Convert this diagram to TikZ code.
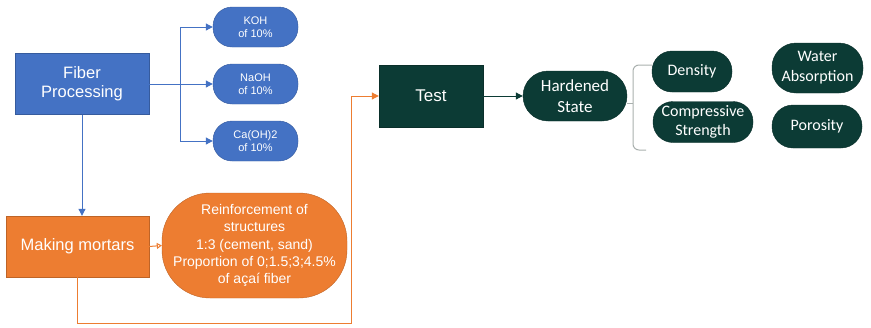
\documentclass[tikz,border=0pt]{standalone}
\usepackage{fontspec}
\setmainfont{Liberation Sans}
\newfontfamily\calib{Carlito}
\usetikzlibrary{arrows.meta}
\definecolor{fblue}{HTML}{4472C4}
\definecolor{forange}{HTML}{ED7D31}
\definecolor{fgreen}{HTML}{0C3B35}
\definecolor{fgray}{HTML}{A9B0AE}

\begin{document}
\begin{tikzpicture}[x=1pt,y=-1pt,
  box/.style={draw=#1!80!black, fill=#1, text=white, align=center, inner sep=0pt, line width=0.4pt},
  pill/.style={box=#1, rounded corners=19pt},
  tip/.style={-{Triangle[length=7pt,width=7pt]}}]
\useasboundingbox (0,0) rectangle (871,327);

\node[box=fblue, minimum width=134pt, minimum height=61pt, font=\fontsize{16.5}{19}\selectfont](fiber) at (82,84){Fiber\\Processing};
\node[pill=fblue, minimum width=85pt, minimum height=40pt, font=\fontsize{11}{13}\selectfont](koh) at (255.5,27){KOH\\of 10\%};
\node[pill=fblue, minimum width=85pt, minimum height=40pt, font=\fontsize{11}{13}\selectfont](naoh) at (255.5,84){NaOH\\of 10\%};
\node[pill=fblue, minimum width=85pt, minimum height=40pt, font=\fontsize{11}{13}\selectfont](caoh) at (255.5,141){Ca(OH)2\\of 10\%};

\node[box=forange, minimum width=143pt, minimum height=61pt, font=\fontsize{16.5}{19}\selectfont](mortars) at (77.5,246.5){Making mortars};
\node[box=forange, rounded corners=48pt, minimum width=185pt, minimum height=105pt, font=\fontsize{14}{17.3}\selectfont](reinf) at (254.5,245.5){Reinforcement of\\structures\\1:3 (cement, sand)\\Proportion of 0;1.5;3;4.5\%\\of açaí fiber};

\node[box=fgreen, minimum width=104pt, minimum height=62pt, font=\fontsize{17}{20}\selectfont](test) at (431,96){Test};
\node[pill=fgreen, rounded corners=25pt, minimum width=104pt, minimum height=50pt, font=\calib\fontsize{17}{21}\selectfont](hard) at (575,96){Hardened\\State};
\node[pill=fgreen, rounded corners=20pt, minimum width=80pt, minimum height=41pt, font=\calib\fontsize{16}{20}\selectfont](density) at (692,71.5){Density};
\node[pill=fgreen, rounded corners=24pt, minimum width=91pt, minimum height=50pt, font=\calib\fontsize{16}{20}\selectfont](water) at (817.5,68){Water\\Absorption};
\node[pill=fgreen, rounded corners=20pt, minimum width=100pt, minimum height=41pt, font=\calib\fontsize{16}{19}\selectfont](compr) at (703,122){Compressive\\Strength};
\node[pill=fgreen, rounded corners=21pt, minimum width=90pt, minimum height=43pt, font=\calib\fontsize{16}{20}\selectfont](poros) at (817,126.5){Porosity};

% treatments
\draw[fblue, line width=1pt] (fiber.east) -- ++(31,0) coordinate (fork);
\draw[fblue, line width=1pt, tip] (fork) |- (koh.west);
\draw[fblue, line width=1pt, tip] (fork) -- (naoh.west);
\draw[fblue, line width=1pt, tip] (fork) |- (caoh.west);
\draw[fblue, line width=1pt, tip] (fiber.south) -- (fiber.south |- mortars.north);

% mortars
\draw[forange, line width=1pt, -{Triangle[open,length=5pt,width=6pt]}] (mortars.east) -- (reinf.west);
\coordinate (low) at (351,323);
\draw[forange, line width=1pt, tip] (mortars.south) |- (low) |- (test.west);

% tests
\draw[fgreen, line width=1pt, tip] (test.east) -- (hard.west);
\coordinate (brace) at (633,103);
\draw[fgray, line width=1pt] (hard.east |- brace) -- (brace);
\draw[fgray, line width=1pt, rounded corners=6pt] (652,65) -- (633,65) -- (633,150) -- (646,150);
\end{tikzpicture}
\end{document}
